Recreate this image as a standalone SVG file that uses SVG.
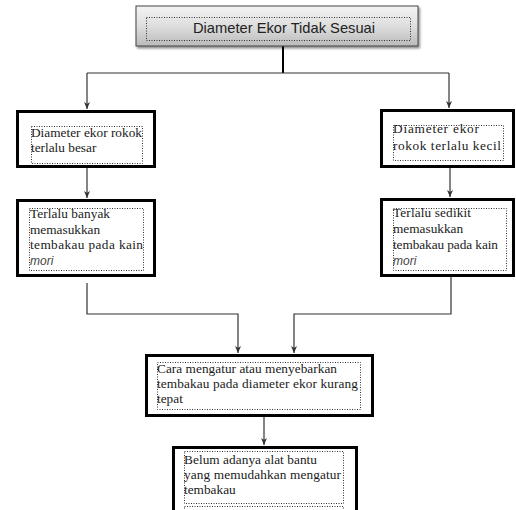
<svg xmlns="http://www.w3.org/2000/svg" width="516" height="510" viewBox="0 0 516 510">
<style>
.box{fill:#fff;stroke:#000;stroke-width:3}
.dot{fill:none;stroke:#333;stroke-width:1;stroke-dasharray:1 1.5}
.t{font-family:"Liberation Serif","Times New Roman",serif;font-size:13.3px;fill:#1a1a1a}
.i{font-family:"Liberation Sans",Arial,sans-serif;font-size:12px;font-style:italic;fill:#444}
.c{fill:none;stroke:#333;stroke-width:1.2}
</style>
<defs>
<linearGradient id="g" x1="0" y1="0" x2="0" y2="1">
<stop offset="0" stop-color="#f4f4f4"/>
<stop offset="0.5" stop-color="#dedede"/>
<stop offset="1" stop-color="#bababa"/>
</linearGradient>
<filter id="sh" x="-5%" y="-20%" width="115%" height="150%">
<feDropShadow dx="1.5" dy="2" stdDeviation="1" flood-color="#000" flood-opacity="0.45"/>
</filter>
<marker id="a" markerWidth="8" markerHeight="8" refX="7" refY="4" orient="auto" markerUnits="userSpaceOnUse">
<path d="M0,1 L7,4 L0,7 L2,4 Z" fill="#333"/>
</marker>
</defs>
<rect width="516" height="510" fill="#fff"/>

<g id="connectors">
<line x1="283" y1="46" x2="283" y2="73" stroke="#000" stroke-width="2"/>
<line class="c" x1="87" y1="73" x2="449" y2="73"/>
<line class="c" x1="87" y1="73" x2="87" y2="109" marker-end="url(#a)"/>
<line class="c" x1="449" y1="73" x2="449" y2="108" marker-end="url(#a)"/>
<line class="c" x1="87" y1="168" x2="87" y2="198" marker-end="url(#a)"/>
<line class="c" x1="450" y1="168" x2="450" y2="197" marker-end="url(#a)"/>
<polyline class="c" points="87,283 87,314 238,314 238,353" marker-end="url(#a)"/>
<polyline class="c" points="451,277 451,314 294,314 294,353" marker-end="url(#a)"/>
<line class="c" x1="264" y1="417" x2="264" y2="445" marker-end="url(#a)"/>
</g>

<g id="n0">
<rect x="136" y="6" width="282" height="40" fill="url(#g)" stroke="#444" stroke-width="1" filter="url(#sh)"/>
<rect class="dot" x="146.5" y="17.5" width="264" height="23" stroke="#666"/>
<text x="193" y="33" font-family="'Liberation Sans',Arial,sans-serif" font-size="14.5" fill="#222" textLength="182" lengthAdjust="spacingAndGlyphs">Diameter Ekor Tidak Sesuai</text>
</g>

<g id="n1">
<rect class="box" x="17.5" y="111.5" width="137" height="55"/>
<rect class="dot" x="31.5" y="126.5" width="111" height="37"/>
<text class="t" x="31" y="137" textLength="111" lengthAdjust="spacing">Diameter ekor rokok</text>
<text class="t" x="31" y="152">terlalu besar</text>
</g>

<g id="n2">
<rect class="box" x="17.5" y="200.5" width="137" height="75"/>
<rect class="dot" x="29.5" y="208.5" width="114" height="62"/>
<text class="t" x="30" y="218" textLength="80" lengthAdjust="spacing">Terlalu banyak</text>
<text class="t" x="30" y="234">memasukkan</text>
<text class="t" x="30" y="249" textLength="113" lengthAdjust="spacing">tembakau pada kain</text>
<text class="i" x="30" y="265">mori</text>
</g>

<g id="n3">
<rect class="box" x="381.5" y="110.5" width="132" height="56"/>
<rect class="dot" x="393.5" y="125.5" width="110" height="35"/>
<text class="t" x="393" y="133" textLength="86" lengthAdjust="spacing">Diameter ekor</text>
<text class="t" x="393" y="150" textLength="108" lengthAdjust="spacing">rokok terlalu kecil</text>
</g>

<g id="n4">
<rect class="box" x="381.5" y="199.5" width="132" height="76"/>
<rect class="dot" x="393.5" y="208.5" width="113" height="62"/>
<text class="t" x="393" y="217" textLength="78" lengthAdjust="spacing">Terlalu sedikit</text>
<text class="t" x="393" y="233">memasukkan</text>
<text class="t" x="393" y="249" textLength="105" lengthAdjust="spacing">tembakau pada kain</text>
<text class="i" x="393" y="265">mori</text>
</g>

<g id="n5">
<rect class="box" x="146.5" y="355.5" width="226" height="60"/>
<rect class="dot" x="157.5" y="362.5" width="203" height="47"/>
<text class="t" x="157" y="373" textLength="180" lengthAdjust="spacing">Cara mengatur atau menyebarkan</text>
<text class="t" x="157" y="388" textLength="201" lengthAdjust="spacing">tembakau pada diameter ekor kurang</text>
<text class="t" x="157" y="403">tepat</text>
</g>

<g id="n6">
<rect class="box" x="173.5" y="447.5" width="183" height="72"/>
<rect class="dot" x="184.5" y="451.5" width="159" height="52"/>
<rect class="dot" x="184.5" y="506.5" width="159" height="12"/>
<text class="t" x="184" y="464" textLength="133" lengthAdjust="spacing">Belum adanya alat bantu</text>
<text class="t" x="184" y="479" textLength="157" lengthAdjust="spacing">yang memudahkan mengatur</text>
<text class="t" x="184" y="494">tembakau</text>
</g>
</svg>
